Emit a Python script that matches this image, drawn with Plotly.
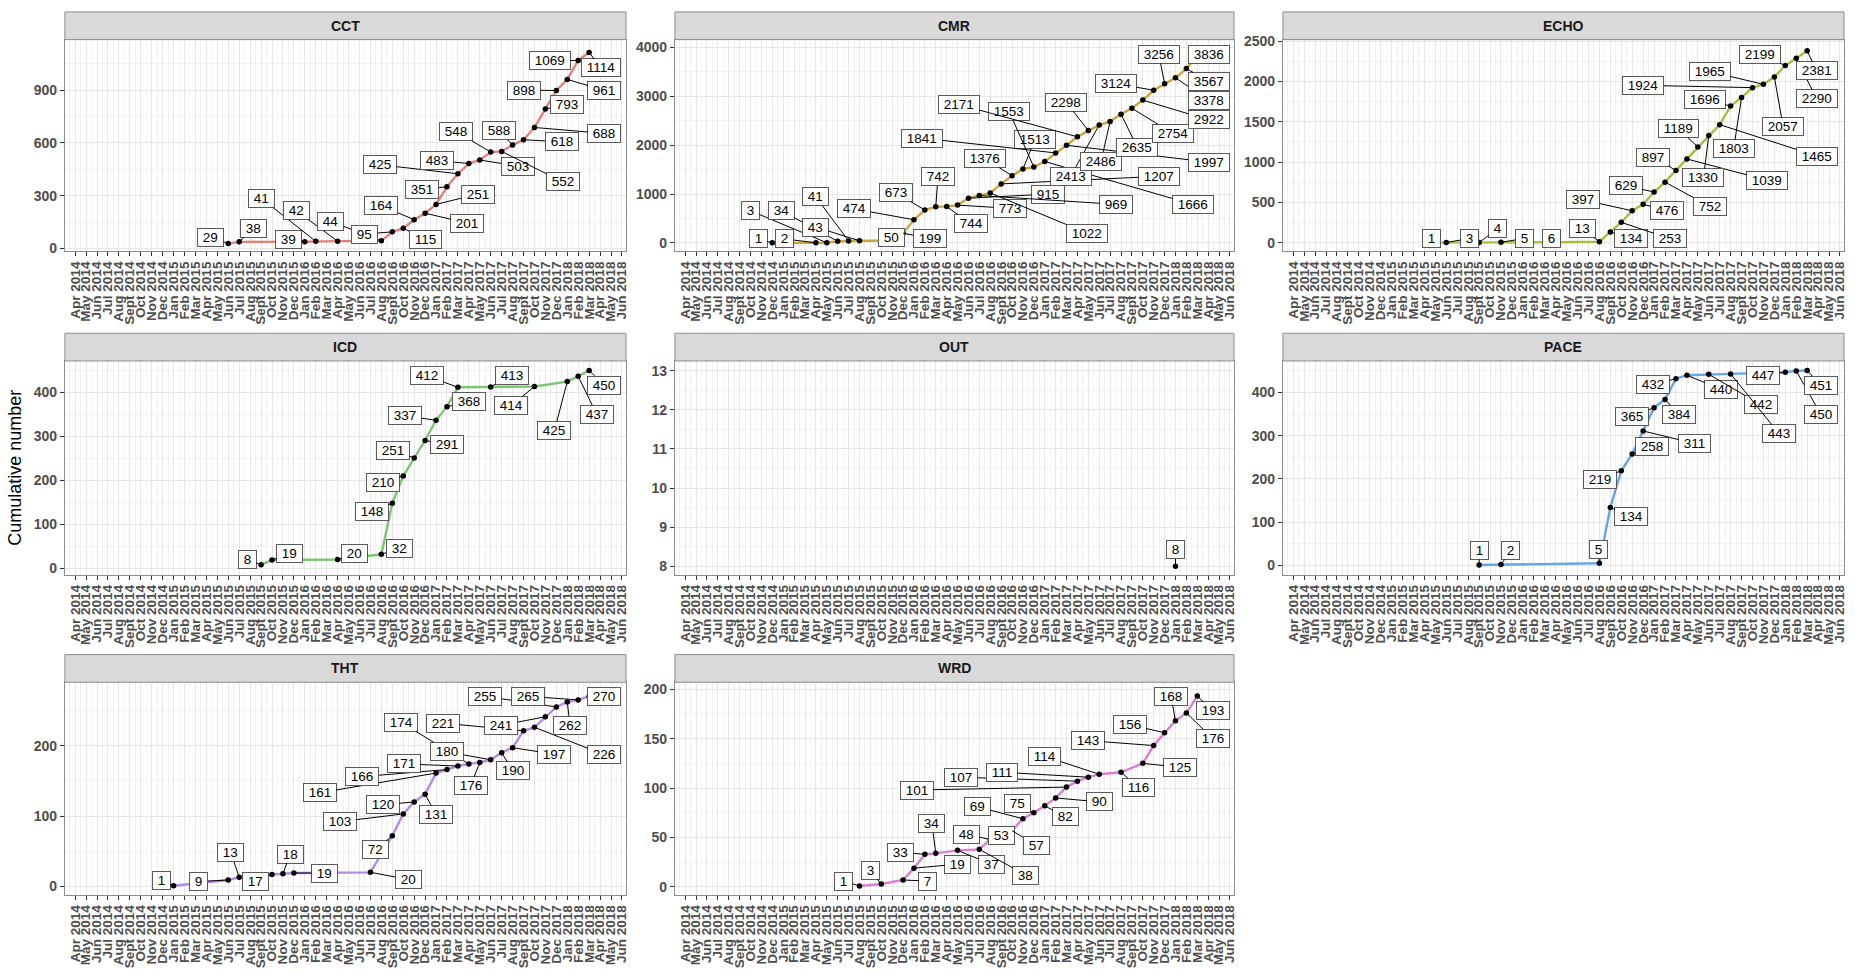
import plotly.graph_objects as go

# ---------------- data ----------------
TICK_LABELS = [
    "Apr 2014", "May 2014", "Jun 2014", "Jul 2014", "Aug 2014", "Sept 2014", "Oct 2014", "Nov 2014", "Dec 2014",
    "Jan 2015", "Feb 2015", "Mar 2015", "Apr 2015", "May 2015", "Jun 2015", "Jul 2015", "Aug 2015", "Sept 2015",
    "Oct 2015", "Nov 2015", "Dec 2015",
    "Jan 2016", "Feb 2016", "Mar 2016", "Apr 2016", "May 2016", "Jun 2016", "Jul 2016", "Aug 2016", "Sept 2016",
    "Oct 2016", "Nov 2016", "Dec 2016",
    "Jan 2017", "Feb 2017", "Mar 2017", "Apr 2017", "May 2017", "Jun 2017", "Jul 2017", "Aug 2017", "Sept 2017",
    "Oct 2017", "Nov 2017", "Dec 2017",
    "Jan 2018", "Feb 2018", "Mar 2018", "Apr 2018", "May 2018", "Jun 2018",
]

PANELS = ["CCT", "CMR", "ECHO", "ICD", "OUT", "PACE", "THT", "WRD"]

CCT_dates = ["2015-06", "2015-07", "2016-01", "2016-02", "2016-04", "2016-08", "2016-09", "2016-10", "2016-11",
             "2016-12", "2017-01", "2017-02", "2017-03", "2017-04", "2017-05", "2017-06", "2017-07", "2017-08",
             "2017-09", "2017-10", "2017-11", "2017-12", "2018-01", "2018-02", "2018-03"]
CCT_values = [29, 38, 39, 41, 42, 44, 95, 115, 164, 201, 251, 351, 425, 483, 503, 548, 552, 588, 618, 688, 793,
              898, 961, 1069, 1114]

CMR_dates = ["2014-12", "2015-04", "2015-05", "2015-06", "2015-07", "2015-08", "2015-11", "2015-12",
             "2016-01", "2016-02", "2016-03", "2016-04", "2016-05", "2016-06", "2016-07", "2016-08", "2016-09",
             "2016-10", "2016-11", "2016-12", "2017-01", "2017-02", "2017-03", "2017-04", "2017-05", "2017-06",
             "2017-07", "2017-08", "2017-09", "2017-10", "2017-11", "2017-12", "2018-01", "2018-02", "2018-03"]
CMR_values = [1, 2, 3, 34, 41, 43, 50, 199, 474, 673, 742, 744, 773, 915, 969, 1022, 1207, 1376, 1513, 1553,
              1666, 1841, 1997, 2171, 2298, 2413, 2486, 2635, 2754, 2922, 3124, 3256, 3378, 3567, 3836]

ECHO_dates = ["2015-05", "2015-06", "2015-09", "2015-11", "2016-04", "2016-08", "2016-09", "2016-10", "2016-11",
              "2016-12", "2017-01", "2017-02", "2017-03", "2017-04", "2017-05", "2017-06", "2017-07", "2017-08",
              "2017-09", "2017-10", "2017-11", "2017-12", "2018-01", "2018-02", "2018-03"]
ECHO_values = [1, 3, 4, 5, 6, 13, 134, 253, 397, 476, 629, 752, 897, 1039, 1189, 1330, 1465, 1696, 1803, 1924,
               1965, 2057, 2199, 2290, 2381]

ICD_dates = ["2015-09", "2015-10", "2016-04", "2016-08", "2016-09", "2016-10", "2016-11", "2016-12", "2017-01",
             "2017-02", "2017-03", "2017-06", "2017-10", "2018-01", "2018-02", "2018-03"]
ICD_values = [8, 19, 20, 32, 148, 210, 251, 291, 337, 368, 412, 413, 414, 425, 437, 450]

OUT_dates = ["2018-01"]
OUT_values = [8]

PACE_dates = ["2015-09", "2015-11", "2016-08", "2016-09", "2016-10", "2016-11", "2016-12", "2017-01", "2017-02",
              "2017-03", "2017-04", "2017-06", "2017-08", "2018-01", "2018-02", "2018-03"]
PACE_values = [1, 2, 5, 134, 219, 258, 311, 365, 384, 432, 440, 442, 443, 447, 450, 451]

THT_dates = ["2015-01", "2015-06", "2015-07", "2015-10", "2015-11", "2015-12", "2016-07", "2016-09", "2016-10",
             "2016-11", "2016-12", "2017-01", "2017-02", "2017-03", "2017-04", "2017-05", "2017-06", "2017-07",
             "2017-08", "2017-09", "2017-10", "2017-11", "2017-12", "2018-01", "2018-02", "2018-03"]
THT_values = [1, 9, 13, 17, 18, 19, 20, 72, 103, 120, 131, 161, 166, 171, 174, 176, 180, 190, 197, 221, 226, 241,
              255, 262, 265, 270]

WRD_dates = ["2015-08", "2015-10", "2015-12", "2016-01", "2016-02", "2016-03", "2016-05", "2016-07", "2016-08",
             "2016-09", "2016-10", "2016-11", "2016-12", "2017-01", "2017-02", "2017-03", "2017-04", "2017-05",
             "2017-06", "2017-08", "2017-10", "2017-11", "2017-12", "2018-01", "2018-02", "2018-03"]
WRD_values = [1, 3, 7, 19, 33, 34, 37, 38, 48, 53, 57, 69, 75, 82, 90, 101, 107, 111, 114, 116, 125, 143, 156, 168,
              176, 193]

DATA = {
    "CCT": (CCT_dates, CCT_values), "CMR": (CMR_dates, CMR_values), "ECHO": (ECHO_dates, ECHO_values),
    "ICD": (ICD_dates, ICD_values), "OUT": (OUT_dates, OUT_values), "PACE": (PACE_dates, PACE_values),
    "THT": (THT_dates, THT_values), "WRD": (WRD_dates, WRD_values),
}

# ---------------- label placement (repelled label centres: month index, value) ----------------
LABEL_XY = {
    "CCT": [(12.37, 64), (16.3, 116), (19.47, 54), (17.04, 285), (20.2, 216), (23.36, 154), (26.46, 82),
            (32.0, 54), (27.95, 244), (35.87, 144), (36.8, 309), (31.76, 337), (27.88, 476), (33.1, 500),
            (40.47, 469), (34.87, 664), (44.58, 379), (38.75, 669), (44.5, 607), (48.4, 654), (45.0, 816),
            (41.07, 900), (48.4, 898), (43.4, 1067), (48.1, 1026)],
    "CMR": [(6.72, 81), (9.14, 81), (5.97, 661), (8.8, 661), (11.98, 944), (11.98, 324), (18.96, 101),
            (22.46, 88), (15.49, 695), (19.33, 1025), (23.2, 1349), (26.2, 391), (29.78, 708), (33.3, 998),
            (39.55, 789), (36.87, 202), (43.47, 1363), (27.5, 1720), (32.1, 2111), (29.74, 2685), (46.57, 789),
            (21.7, 2145), (48.06, 1653), (25.1, 2833), (34.96, 2880), (35.37, 1363), (38.17, 1673),
            (41.5, 1956), (44.78, 2239), (48.06, 2516), (39.55, 3258), (43.47, 3858), (48.06, 2914),
            (48.06, 3305), (48.06, 3858)],
    "ECHO": [(12.66, 53), (16.14, 53), (18.7, 172), (21.13, 53), (23.59, 53), (26.41, 176), (30.9, 49),
             (34.48, 49), (26.5, 531), (34.19, 400), (30.39, 707), (38.1, 449), (32.92, 1062), (43.34, 776),
             (35.2, 1417), (37.52, 809), (47.94, 1074), (37.63, 1777), (40.27, 1164), (32.02, 1953),
             (38.1, 2124), (44.8, 1438), (42.7, 2337), (47.87, 1785), (47.87, 2132)],
    "ICD": [(15.73, 20), (19.62, 33), (25.52, 33), (29.63, 46), (27.13, 130), (28.14, 196), (29.07, 269),
            (34.0, 282), (30.19, 347), (35.99, 379), (32.17, 438), (39.98, 440), (39.9, 371), (43.83, 314),
            (47.68, 351), (48.39, 417)],
    "OUT": [(45.0, 8.42)],
    "PACE": [(17.0, 34), (19.9, 34), (27.9, 36), (30.93, 114), (28.04, 199), (32.81, 275), (36.72, 282),
             (31.0, 344), (35.27, 350), (32.92, 418), (39.15, 407), (42.76, 372), (44.43, 305), (42.98, 440),
             (48.23, 350), (48.23, 417)],
    "THT": [(7.85, 8), (11.32, 7), (14.24, 48), (16.52, 7), (19.66, 46), (22.8, 19), (30.46, 10), (27.47, 52),
            (24.25, 92), (28.14, 116), (33.0, 102), (22.35, 133), (26.27, 156), (30.08, 174), (29.82, 233),
            (36.17, 143), (34.0, 191), (40.02, 164), (43.83, 188), (33.63, 232), (48.39, 187), (38.98, 229),
            (37.48, 270), (45.25, 229), (41.4, 270), (48.39, 270)],
    "WRD": [(14.55, 6), (16.98, 17), (22.28, 6), (25.0, 23), (19.78, 35), (22.65, 64), (28.1, 23), (31.27, 12),
            (25.82, 53), (28.99, 52), (32.2, 42), (26.83, 81), (30.52, 84), (34.89, 71), (38.06, 86),
            (21.27, 98), (25.3, 111), (29.1, 116), (33.02, 132), (41.6, 101), (45.45, 121), (36.94, 148),
            (40.78, 164), (44.59, 193), (48.43, 150), (48.43, 178)],
}

# ---------------- styling ----------------
COLORS = {"CCT": "#E8807A", "CMR": "#CDA43A", "ECHO": "#A3C23C", "ICD": "#7CC672",
          "OUT": "#5FC4C8", "PACE": "#62A8E8", "THT": "#B58AEC", "WRD": "#E07BD6"}
Y_RANGE = {"CCT": [-15, 1187], "CMR": [-170, 4160], "ECHO": [-105, 2520], "ICD": [-14, 472],
           "OUT": [7.79, 13.25], "PACE": [-21, 473], "THT": [-12, 290], "WRD": [-8, 207]}
Y_DTICK = {"CCT": 300, "CMR": 1000, "ECHO": 500, "ICD": 100, "OUT": 1, "PACE": 100, "THT": 100, "WRD": 50}
POS = {"CCT": (0, 0), "CMR": (0, 1), "ECHO": (0, 2), "ICD": (1, 0), "OUT": (1, 1), "PACE": (1, 2),
       "THT": (2, 0), "WRD": (2, 1)}

W, H = 1862, 974
COL_X = [(65, 627), (676, 1236), (1285, 1847)]
ROW_Y = [(34, 248), (359, 575), (684, 899)]
STRIP_H = 28
FONT = "Liberation Sans, Arial, Helvetica, sans-serif"
NBSP = "\u00a0"


def month_index(d):
    y, m = d.split("-")
    return (int(y) - 2014) * 12 + (int(m) - 4)


fig = go.Figure()
layout = dict(
    width=W, height=H, margin=dict(l=0, r=0, t=0, b=0),
    paper_bgcolor="white", plot_bgcolor="white", showlegend=False,
    font=dict(family=FONT),
)
annotations = []
shapes = []

for i, name in enumerate(PANELS):
    sfx = "" if i == 0 else str(i + 1)
    r, c = POS[name]
    x0, x1 = COL_X[c]
    y0, y1 = ROW_Y[r]
    xd = [x0 / W, x1 / W]
    yd = [1 - y1 / H, 1 - y0 / H]
    dates, vals = DATA[name]
    xs = [month_index(d) for d in dates]

    fig.add_trace(go.Scatter(
        x=xs, y=vals, xaxis="x" + sfx, yaxis="y" + sfx,
        mode="lines+markers" if len(xs) > 1 else "markers",
        line=dict(color=COLORS[name], width=2.4),
        marker=dict(color="black", size=5.5),
        hoverinfo="x+y", name=name,
    ))

    layout["xaxis" + sfx] = dict(
        domain=xd, anchor="y" + sfx, range=[-0.94, 50.37],
        tickmode="array", tickvals=list(range(len(TICK_LABELS))), ticktext=TICK_LABELS,
        tickangle=-90, ticks="outside", ticklen=4, tickwidth=1, tickcolor="#333333",
        tickfont=dict(family=FONT, size=13.5, color="#4d4d4d", weight="bold"),
        showgrid=True, gridcolor="#e6e6e6", gridwidth=1,
        minor=dict(tick0=0.5, dtick=1, showgrid=True, gridcolor="#f2f2f2", gridwidth=0.6, ticks=""),
        showline=True, mirror=True, linecolor="#8c8c8c", linewidth=1, zeroline=False,
    )
    layout["yaxis" + sfx] = dict(
        domain=yd, anchor="x" + sfx, range=Y_RANGE[name],
        tick0=0, dtick=Y_DTICK[name], ticks="outside", ticklen=4, tickwidth=1, tickcolor="#333333",
        tickfont=dict(family=FONT, size=14, color="#4d4d4d", weight="bold"),
        showgrid=True, gridcolor="#e6e6e6", gridwidth=1,
        minor=dict(dtick=Y_DTICK[name] / 2, showgrid=True, gridcolor="#f2f2f2", gridwidth=0.6, ticks=""),
        showline=True, mirror=True, linecolor="#8c8c8c", linewidth=1, zeroline=False,
    )

    # facet strip
    shapes.append(dict(type="rect", xref="paper", yref="paper",
                       x0=xd[0], x1=xd[1], y0=yd[1], y1=yd[1] + STRIP_H / H,
                       fillcolor="#d9d9d9", line=dict(color="#8c8c8c", width=1), layer="above"))
    annotations.append(dict(x=(xd[0] + xd[1]) / 2, y=yd[1] + STRIP_H / (2 * H), xref="paper", yref="paper",
                            text="<b>%s</b>" % name, showarrow=False,
                            font=dict(family=FONT, size=14, color="#1a1a1a"),
                            xanchor="center", yanchor="middle"))

    # repelled value labels
    for (mx, v), (lx, ly) in zip(zip(xs, vals), LABEL_XY[name]):
        annotations.append(dict(
            x=mx, y=v, xref="x" + sfx, yref="y" + sfx,
            ax=lx, ay=ly, axref="x" + sfx, ayref="y" + sfx,
            text=NBSP + str(v) + NBSP, showarrow=True, arrowhead=0, arrowwidth=1, arrowcolor="black",
            standoff=0,
            font=dict(family=FONT, size=13.5, color="black"),
            bgcolor="white", bordercolor="#5a5a5a", borderwidth=1, borderpad=1,
        ))

annotations.append(dict(x=15 / W, y=1 - 467 / H, xref="paper", yref="paper", text="Cumulative number",
                        textangle=-90, showarrow=False, font=dict(family=FONT, size=18, color="black"),
                        xanchor="center", yanchor="middle"))

layout["annotations"] = annotations
layout["shapes"] = shapes
fig.update_layout(**layout)

fig.write_html("out.html", config={"displayModeBar": False},
               post_script="document.body.style.margin='0';document.body.style.overflow='hidden';")
